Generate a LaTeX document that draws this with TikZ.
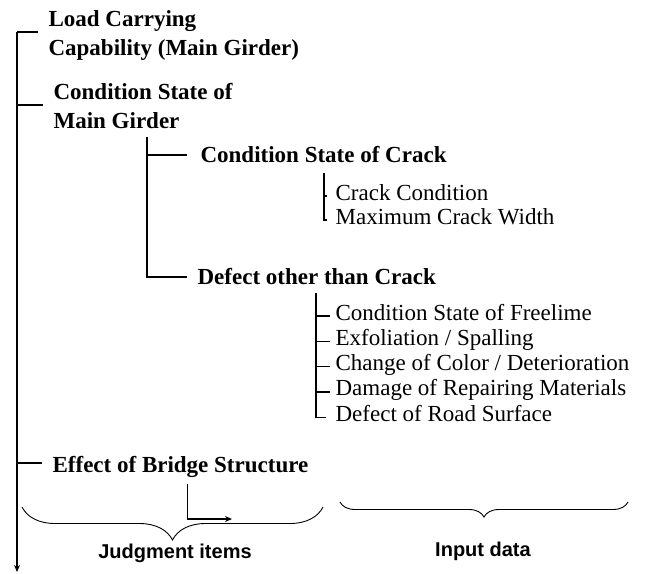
\documentclass[tikz,border=0pt]{standalone}
\usepackage{fontspec}
\setmainfont{Liberation Serif}
\setsansfont{Liberation Sans}
\usetikzlibrary{arrows.meta,decorations.pathreplacing}

\begin{document}
\begin{tikzpicture}[x=1pt,y=-1pt,line width=1.2pt,
  bigitem/.style={font=\fontsize{23}{29}\selectfont\bfseries,anchor=west,inner sep=0pt,align=left},
  smallitem/.style={font=\fontsize{23}{25}\selectfont,anchor=west,inner sep=0pt,text height=15pt,text depth=7pt},
  caption/.style={font=\sffamily\bfseries\fontsize{20}{24}\selectfont,inner sep=0pt},
  tip/.style={-{Stealth[length=7pt,width=6pt]}},
  bracket/.style={decorate,line width=0.9pt,decoration={brace,mirror,amplitude=#1}}]
  \useasboundingbox (0,0) rectangle (650,573);
  \node[bigitem] (load) at (48,36) {Load Carrying\\Capability (Main Girder)};
  \node[bigitem] (girder) at (53,106) {Condition State of\\Main Girder};
  \node[bigitem] (crack) at (200,155) {Condition State of Crack};
  \node[bigitem] (defect) at (197,277) {Defect other than Crack};
  \node[bigitem] (effect) at (52,467) {Effect of Bridge Structure};
  \node[smallitem] (cond) at (335,196) {Crack Condition};
  \node[smallitem] (width) at (335,220) {Maximum Crack Width};
  \foreach \i/\name/\lab in {0/free/{Condition State of Freelime},1/exfo/{Exfoliation / Spalling},
      2/color/{Change of Color / Deterioration},3/repair/{Damage of Repairing Materials},4/road/{Defect of Road Surface}}
    \node[smallitem] (\name) at (335,316+25.3*\i) {\lab};

  \draw ([xshift=-10pt,yshift=4pt]load.west) -- ++(-21,0) coordinate (trunk top);
  \coordinate (trunk end) at (17,572);
  \draw[tip] (trunk top) -- (trunk end);
  \draw ([yshift=1pt]girder.west -| trunk end) -- ([xshift=-10pt,yshift=1pt]girder.west);
  \draw ([yshift=4pt]effect.west -| trunk end) -- ([xshift=-10pt,yshift=4pt]effect.west);

  \coordinate (sub top) at (147,137);
  \draw (sub top) |- ([xshift=-10pt]defect.west);
  \draw (crack.west -| sub top) -- ([xshift=-13pt]crack.west);

  \coordinate (cg top) at (324,173);
  \draw (cg top) |- ([xshift=-8pt]width.west);
  \draw (cond.west -| cg top) -- ++(3,0);

  \coordinate (dg top) at (316,293);
  \draw (dg top) |- ([xshift=-9pt]road.west);
  \foreach \name in {free,exfo,color,repair}
    \draw (\name.west -| dg top) -- ([xshift=-5pt]\name.west);

  \coordinate (elbow end) at (232,519);
  \draw[tip] ([xshift=7pt,yshift=-6pt]effect.south) |- (elbow end);

  \coordinate (judge left) at (22,507);
  \coordinate (judge right) at (323,507);
  \coordinate (input left) at (340,502);
  \coordinate (input right) at (628,502);
  \draw[bracket=33pt] (judge left) -- (judge right);
  \draw[bracket=15pt] (input left) -- (input right);
  \node[caption] (judge) at (175,553) {Judgment items};
  \node[caption] (input) at (483,551) {Input data};
\end{tikzpicture}
\end{document}
